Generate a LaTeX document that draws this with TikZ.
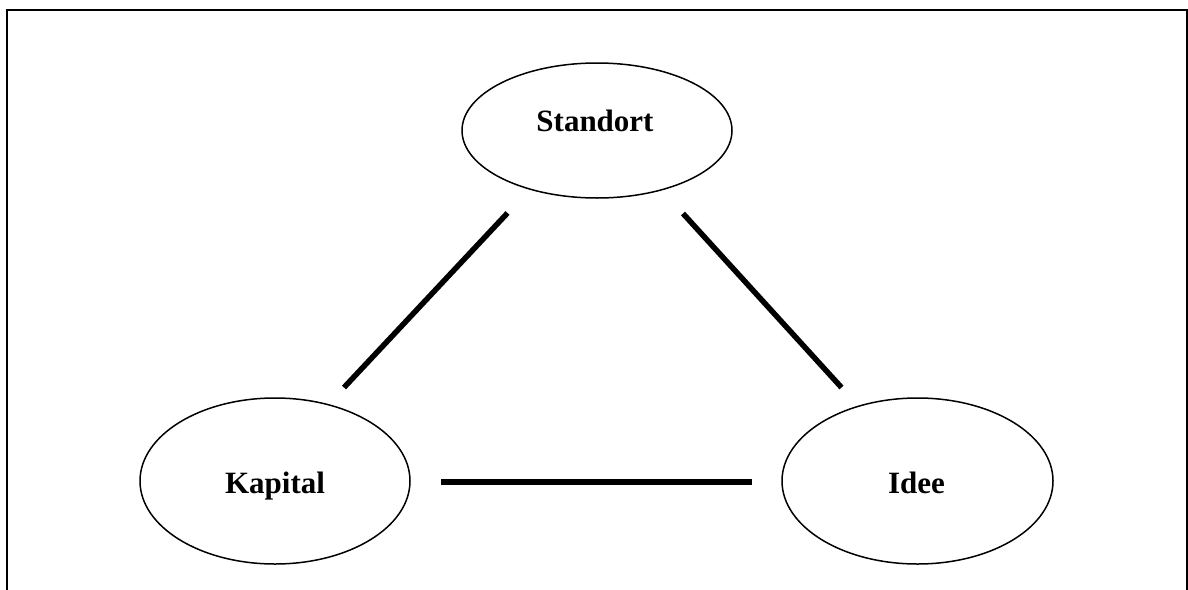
\documentclass[tikz,border=0pt]{standalone}
\usepackage{fontspec}
\setmainfont{Liberation Serif}
\usetikzlibrary{shapes.geometric}
\begin{document}
\begin{tikzpicture}[x=1pt,y=-1pt,
  bubble/.style={draw,line width=1.5pt,ellipse,inner sep=0pt},
  word/.style={font=\bfseries\fontsize{31}{36}\selectfont,anchor=base,inner sep=0pt},
  link/.style={line width=5.5pt},
  frame/.style={line width=2pt}]
\useasboundingbox (0,0) rectangle (1188,589);
\begin{scope}
\clip (0,0) rectangle (1188,589);
% open frame round the diagram
\draw[frame] (7,600) -- (7,10) -- (1187,10) -- (1187,600);
\end{scope}
% the three ellipses
\node[bubble,minimum width=270pt,minimum height=135pt] (std) at (597,130.5) {};
\node[bubble,minimum width=270pt,minimum height=166pt] (kap) at (275,481) {};
\node[bubble,minimum width=271pt,minimum height=166pt] (ide) at (917.5,481) {};
% labels
\node[word] (tstd) at (595,131.5) {Standort};
\node[word] (tkap) at (275,493) {Kapital};
\node[word] (tide) at (916.5,493) {Idee};
% connector end points
\coordinate (sk1) at (507.5,213);
\coordinate (sk2) at (344,387.5);
\coordinate (si1) at (683,213.5);
\coordinate (si2) at (841.5,387.5);
\coordinate (ki1) at (441,482);
\coordinate (ki2) at (751.5,482);
% connectors
\draw[link] (sk1) -- (sk2);
\draw[link] (si1) -- (si2);
\draw[link] (ki1) -- (ki2);
\end{tikzpicture}
\end{document}
